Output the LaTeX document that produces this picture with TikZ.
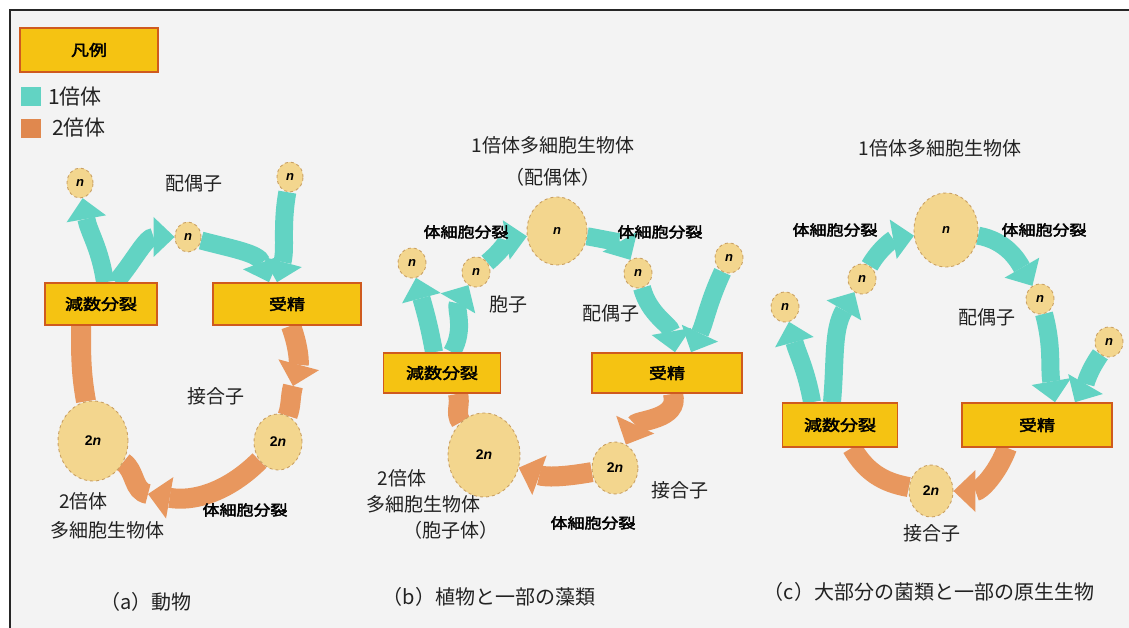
\documentclass[tikz,border=0pt]{standalone}
\usepackage{fontspec}
\setmainfont{Noto Sans CJK JP}
\newfontfamily\jpb{Noto Sans CJK JP}[FakeBold=2.5]
\newfontfamily\lat{Liberation Sans}
\usetikzlibrary{arrows.meta,shapes.geometric}
\definecolor{bgc}{HTML}{F3F3F3}
\definecolor{teal1}{HTML}{62D3C3}
\definecolor{orng}{HTML}{E8975E}
\definecolor{lgor}{HTML}{E0884E}
\definecolor{boxf}{HTML}{F5C312}
\definecolor{boxd}{HTML}{CF5A1E}
\definecolor{cellf}{HTML}{F3D68E}
\definecolor{celld}{HTML}{C9A063}
\definecolor{txt}{HTML}{222222}
\newcommand{\sqz}[1]{\scalebox{1}[0.85]{#1}}
\newcommand{\nlab}{{\lat\bfseries\itshape\fontsize{13}{13}\selectfont n}}
\newcommand{\tnlab}{{\lat\bfseries\fontsize{14}{14}\selectfont 2\textit{n}}}
\pgfdeclarelayer{bgl}
\pgfdeclarelayer{arl}
\pgfsetlayers{bgl,arl,main}
\begin{document}
\begin{tikzpicture}[x=1pt,y=-1pt,
  lbl/.style={font=\fontsize{19}{21}\selectfont, text=txt, inner sep=0},
  blbl/.style={font=\jpb\fontsize{17}{20}\selectfont, text=black, inner sep=0},
  captxt/.style={font=\fontsize{20}{22}\selectfont, text=txt, inner sep=0},
  cell/.style 2 args={ellipse, fill=cellf, draw=celld, dashed, line width=0.9pt, inner sep=0, minimum width=#1, minimum height=#2},
  yelbox/.style 2 args={rectangle, fill=boxf, draw=boxd, line width=1.6pt, minimum width=#1, minimum height=#2, inner sep=0, font=\jpb\fontsize{18}{18}\selectfont},
  tarr/.style={draw=teal1, line width=18pt, -{Triangle[length=21pt,width=40pt,line width=0pt]}},
  oarr/.style={draw=orng, line width=20pt},
  otip/.style={-{Triangle[length=22pt,width=42pt,line width=0pt]}}
]
\useasboundingbox (0,0) rectangle (1129,628);
\begin{pgfonlayer}{bgl}
\fill[white] (0,0) rectangle (1129,628);
\fill[bgc] (11,11) rectangle (1129,628);
\draw[line width=2.5pt, black!85] (10,628) -- (10,10) -- (1129,10);
\end{pgfonlayer}

% legend
\node[yelbox={138pt}{44pt}] (lg) at (89,50) {\sqz{凡例}};
\node[fill=teal1, minimum width=20pt, minimum height=19pt, inner sep=0] (sqT) at (31,97) {};
\node[fill=lgor, minimum width=20pt, minimum height=19pt, inner sep=0] (sqO) at (31,129) {};
\node[lbl, anchor=west, font=\fontsize{21}{21}\selectfont] (tT) at (48,97) {1倍体};
\node[lbl, anchor=west, font=\fontsize{21}{21}\selectfont] (tO) at (52,128) {2倍体};

% panel a
\node[cell={26pt}{30pt}] (gA1) at (80,183) {\nlab};
\node[cell={26pt}{30pt}] (gA2) at (290,177) {\nlab};
\node[cell={26pt}{30pt}] (gA3) at (188,237) {\nlab};
\node[yelbox={112pt}{42pt}] (meiA) at (101,304) {\sqz{減数分裂}};
\node[yelbox={148pt}{42pt}] (ferA) at (287,304) {\sqz{受精}};
\node[cell={70pt}{80pt}] (dA) at (93,441) {\tnlab};
\node[cell={48pt}{56pt}] (zA) at (278,442) {\tnlab};
\node[lbl] (tA1) at (194,183) {配偶子};
\node[lbl] (tA2) at (216,396) {接合子};
\node[blbl] (tA3) at (245,510) {\sqz{体細胞分裂}};
\node[lbl, anchor=west] (tA4) at (59,501) {2倍体};
\node[lbl, anchor=west] (tA5) at (50,530) {多細胞生物体};
\node[captxt] (capA) at (146,602) {（a）動物};
\coordinate (mA1) at (293,386);
\coordinate (mA2) at (148,494);

% panel b
\node[lbl] (hB1) at (553,145) {1倍体多細胞生物体};
\node[lbl] (hB2) at (553,177) {（配偶体）};
\node[cell={60pt}{68pt}] (gB) at (557,231) {\nlab};
\node[cell={28pt}{30pt}] (sB1) at (412,263) {\nlab};
\node[cell={28pt}{30pt}] (sB2) at (476,272) {\nlab};
\node[cell={28pt}{30pt}] (sB3) at (638,273) {\nlab};
\node[cell={28pt}{30pt}] (sB4) at (729,258) {\nlab};
\node[yelbox={117pt}{40pt}] (meiB) at (442,373) {\sqz{減数分裂}};
\node[yelbox={150pt}{40pt}] (ferB) at (667,373) {\sqz{受精}};
\node[cell={72pt}{84pt}] (dB) at (484,455) {\tnlab};
\node[cell={46pt}{52pt}] (zB) at (615,468) {\tnlab};
\node[blbl] (tB1) at (466,232) {\sqz{体細胞分裂}};
\node[blbl] (tB2) at (660,232) {\sqz{体細胞分裂}};
\node[lbl] (tB3) at (508,304) {胞子};
\node[lbl] (tB4) at (611,313) {配偶子};
\node[lbl] (tB5) at (680,490) {接合子};
\node[blbl] (tB6) at (593,523) {\sqz{体細胞分裂}};
\node[lbl] (tB7) at (402,478) {2倍体};
\node[lbl] (tB8) at (423,504) {多細胞生物体};
\node[lbl] (tB9) at (451,530) {（胞子体）};
\node[captxt] (capB) at (489,597) {（b）植物と一部の藻類};

% panel c
\node[lbl] (hC1) at (940,148) {1倍体多細胞生物体};
\node[cell={64pt}{74pt}] (gC) at (946,230) {\nlab};
\node[cell={28pt}{30pt}] (sC1) at (862,279) {\nlab};
\node[cell={28pt}{30pt}] (sC2) at (785,307) {\nlab};
\node[cell={28pt}{30pt}] (sC3) at (1040,299) {\nlab};
\node[cell={28pt}{30pt}] (sC4) at (1109,342) {\nlab};
\node[yelbox={115pt}{44pt}] (meiC) at (840,425) {\sqz{減数分裂}};
\node[yelbox={150pt}{44pt}] (ferC) at (1037,425) {\sqz{受精}};
\node[cell={44pt}{52pt}] (zC) at (931,491) {\tnlab};
\node[blbl] (tC1) at (835,230) {\sqz{体細胞分裂}};
\node[blbl] (tC2) at (1044,230) {\sqz{体細胞分裂}};
\node[lbl] (tC3) at (987,317) {配偶子};
\node[lbl] (tC4) at (932,533) {接合子};
\node[captxt] (capC) at (929,592) {（c）大部分の菌類と一部の原生生物};

\begin{pgfonlayer}{arl}
% a
\draw[tarr] ([xshift=4pt]meiA.north) to[out=98,in=-80] (gA1);
\draw[tarr] ([xshift=15pt]meiA.north) to[out=50,in=180] (gA3);
\draw[tarr] (gA3) to[out=-15,in=110] ([xshift=-18pt]ferA.north);
\draw[tarr] (gA2) to[out=-100,in=75] ([xshift=-10pt]ferA.north);
\draw[oarr] (mA1) to[out=-105,in=70] (zA);
\draw[oarr, otip] ([xshift=4pt]ferA.south) to[out=-70,in=75] (mA1);
\draw[oarr] (mA2) to[out=170,in=-35] (dA);
\draw[oarr, otip] (zA) to[out=-135,in=-10] (mA2);
\draw[oarr] (dA) to[out=100,in=-90] ([xshift=-20pt]meiA.south);
% b
\draw[tarr] ([xshift=-8pt]meiB.north) to[out=100,in=-75] (sB1);
\draw[tarr] ([xshift=10pt]meiB.north) to[out=60,in=-120] (sB2);
\draw[tarr] (sB2) to[out=40,in=-170] (gB);
\draw[tarr] (gB) to[out=-10,in=120] (sB3);
\draw[tarr] (sB3) to[out=-75,in=100] ([xshift=8pt]ferB.north);
\draw[tarr] (sB4) to[out=-115,in=65] ([xshift=24pt]ferB.north);
\draw[oarr, otip] ([xshift=6pt]ferB.south) to[out=-75,in=65] (zB);
\draw[oarr, otip] (zB) to[out=-170,in=-20] (dB);
\draw[oarr] (dB) to[out=125,in=-75] ([xshift=16pt]meiB.south);
% c
\draw[tarr] ([xshift=-28pt]meiC.north) to[out=100,in=-75] (sC2);
\draw[tarr] ([xshift=-8pt]meiC.north) to[out=85,in=-120] (sC1);
\draw[tarr] (sC1) to[out=60,in=-170] (gC);
\draw[tarr] (gC) to[out=-10,in=120] (sC3);
\draw[tarr] (sC3) to[out=-75,in=100] ([xshift=18pt]ferC.north);
\draw[tarr] (sC4) to[out=-125,in=60] ([xshift=38pt]ferC.north);
\draw[oarr, otip] ([xshift=-30pt]ferC.south) to[out=-110,in=0] (zC);
\draw[oarr] (zC) to[out=170,in=-60] ([xshift=12pt]meiC.south);
\end{pgfonlayer}
\end{tikzpicture}
\end{document}
